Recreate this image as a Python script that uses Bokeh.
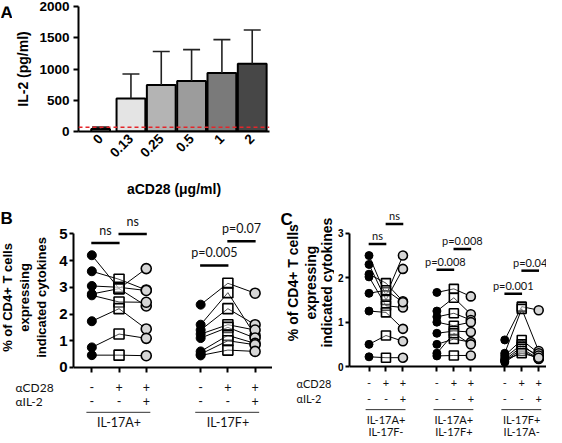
from math import pi
from bokeh.plotting import figure
from bokeh.layouts import column, row
from bokeh.models import Span, FixedTicker, LinearAxis, Range1d
from bokeh.core.properties import value
from bokeh.embed import file_html
from bokeh.resources import INLINE

# ---------------- data ----------------
# Panel A: IL-2 secretion vs aCD28 dose
a_doses = ["0", "0.13", "0.25", "0.5", "1", "2"]
a_mean = [40, 530, 745, 810, 935, 1085]
a_upper = [70, 920, 1280, 1310, 1470, 1625]   # mean + SD
a_detection_limit = 70

# Conditions (shared by B and C)
cd28_signs = ["-", "+", "+"]
il2_signs = ["-", "-", "+"]
y_title = ["% of CD4+ T cells", "expressing", "indicated cytokines"]

# Panel B: % of CD4+ T cells (paired donors)
b_groups = ["IL-17A+", "IL-17F+"]
b_ctrl = [[4.2, 3.6, 3.05, 2.75, 2.7, 1.73, 0.75, 0.46],
          [2.35, 1.6, 1.4, 1.25, 1.1, 0.6, 0.5, 0.45]]
b_cd28 = [[2.95, 3.3, 3.0, 2.95, 2.45, 2.2, 1.25, 0.46],
          [3.15, 2.8, 2.2, 1.6, 1.5, 1.2, 1.0, 0.65]]
b_cd28_il2 = [[2.3, 2.9, 2.88, 3.7, 2.44, 1.44, 1.09, 0.44],
              [2.78, 1.2, 1.6, 1.4, 1.1, 0.9, 0.85, 0.6]]
# (group, condition i, condition j, bar height, text)
b_sig = [(0, 0, 1, 4.66, "ns"), (0, 1, 2, 5.0, "ns"),
         (1, 0, 1, 3.82, "p=0.005"), (1, 1, 2, 4.72, "p=0.07")]

# Panel C
c_groups = [("IL-17A+", "IL-17F-"), ("IL-17A+", "IL-17F+"), ("IL-17F+", "IL-17A-")]
c_ctrl = [[2.5, 2.3, 2.08, 2.02, 1.65, 1.25, 0.5, 0.22],
          [1.67, 1.25, 1.12, 1.0, 0.75, 0.5, 0.3, 0.24],
          [0.6, 0.3, 0.25, 0.2, 0.15, 0.12, 0.1, 0.15]]
c_cd28 = [[1.6, 1.5, 1.88, 1.37, 1.72, 1.22, 0.7, 0.2],
          [1.75, 1.55, 1.2, 0.92, 0.8, 0.62, 0.75, 0.25],
          [1.35, 1.3, 0.6, 0.5, 0.45, 0.4, 0.35, 0.3]]
c_cd28_il2 = [[2.5, 2.2, 1.47, 1.33, 1.45, 0.85, 0.57, 0.2],
              [1.58, 1.18, 1.05, 1.0, 0.78, 0.55, 0.5, 0.25],
              [1.27, 0.35, 0.3, 0.2, 0.25, 0.18, 0.17, 0.2]]
c_sig = [(0, 0, 1, 2.76, "ns"), (0, 1, 2, 3.21, "ns"),
         (1, 0, 1, 2.18, "p=0.008"), (1, 1, 2, 2.65, "p=0.008"),
         (2, 0, 1, 1.64, "p=0.001"), (2, 1, 2, 2.16, "p=0.04")]

# ---------------- styles ----------------
BOLD = "Liberation Sans"
LIGHT = "Lato"
TXT = "#111111"
bar_colors = ["#d4d4d4", "#e4e4e4", "#b4b4b4", "#9c9c9c", "#7a7a7a", "#474747"]
bar_widths = [0.62, 0.95, 0.95, 0.95, 0.95, 0.95]


def clean(p):
    p.grid.visible = False
    p.outline_line_color = None
    p.background_fill_color = "white"
    p.border_fill_color = "white"


def style_axis(ax, font_size, tick_len=5):
    ax.axis_line_width = 2
    ax.axis_line_color = "black"
    ax.major_tick_line_width = 2
    ax.major_tick_out = tick_len
    ax.major_tick_in = 0
    ax.minor_tick_line_color = None
    ax.major_label_text_font = BOLD
    ax.major_label_text_font_style = "bold"
    ax.major_label_text_font_size = font_size
    ax.major_label_text_color = "black"


def side_fig(width, height, x_range, y_range, top=0, bottom=0):
    """An axis-free strip holding the texts that sit left of a panel's y axis."""
    s = figure(width=width, height=height, x_range=x_range, y_range=y_range,
               output_backend="svg", toolbar_location=None, x_axis_location=None,
               y_axis_location=None, min_border_left=0, min_border_right=0,
               min_border_top=top, min_border_bottom=bottom)
    clean(s)
    return s


def letter(s, x, y, txt):
    s.text(x=[x], y=[y], text=[txt], text_font=value(BOLD), text_font_style="bold",
           text_font_size="17px", text_baseline="middle", text_align="left",
           text_color="black")


# ---------------- Panel A ----------------
a_x = list(range(len(a_doses)))
pA = figure(width=262, height=200, x_range=(-0.73, 5.57), y_range=(0, 2000),
            output_backend="svg", toolbar_location=None,
            min_border_left=58, min_border_right=5, min_border_top=6, min_border_bottom=63)
clean(pA)
pA.vbar(x=a_x, top=a_mean, width=bar_widths, bottom=0, fill_color=bar_colors,
        line_color="black", line_width=2)
pA.segment(x0=a_x, y0=a_mean, x1=a_x, y1=a_upper, line_color="#222222", line_width=1.6)
pA.segment(x0=[x - 0.28 for x in a_x], y0=a_upper, x1=[x + 0.28 for x in a_x], y1=a_upper,
           line_color="#222222", line_width=1.6)
pA.add_layout(Span(location=a_detection_limit, dimension="width", line_color="#e3262b",
                   line_dash="4 3", line_width=1.5))
style_axis(pA.yaxis[0], "13.5px")
pA.yaxis.major_label_standoff = 4
pA.yaxis.ticker = FixedTicker(ticks=[0, 500, 1000, 1500, 2000])
pA.yaxis.axis_label = "IL-2 (pg/ml)"
style_axis(pA.xaxis[0], "13.5px", tick_len=0)
pA.xaxis.major_tick_line_color = None
pA.xaxis.ticker = FixedTicker(ticks=a_x)
pA.xaxis.major_label_overrides = {x: d for x, d in zip(a_x, a_doses)}
pA.xaxis.major_label_orientation = pi / 4
pA.xaxis.axis_label = "aCD28 (\u03bcg/ml)"
for ax in (pA.xaxis[0], pA.yaxis[0]):
    ax.axis_label_text_font = BOLD
    ax.axis_label_text_font_style = "bold"
    ax.axis_label_text_font_size = "14px"
    ax.axis_label_text_color = "black"
pA.yaxis.axis_label_standoff = 5
pA.xaxis.axis_label_standoff = 17

pAL = side_fig(12, 200, Range1d(0, 12), Range1d(200, 0))
letter(pAL, 0, 10, "A")


# ---------------- paired panels ----------------
def paired_panel(width, left, xr, yr, ymax, tick_font, groups, ctrl, cd28, il2, sig,
                 sig_off, rows, m_black, m_sq, m_grey, ann_font, two_line, tick_standoff):
    p = figure(width=width, height=238, x_range=xr, y_range=yr, output_backend="svg",
               toolbar_location=None, x_axis_location=None,
               min_border_left=left, min_border_right=0, min_border_top=8,
               min_border_bottom=0)
    clean(p)
    n_groups = len(groups)
    bases = [1 + 4 * g for g in range(n_groups)]
    positions = [b + i for b in bases for i in range(3)]

    # y axis
    style_axis(p.yaxis[0], tick_font, tick_len=4)
    p.yaxis.bounds = (0, ymax)
    p.yaxis.ticker = FixedTicker(ticks=list(range(0, ymax + 1)))
    p.yaxis.major_label_standoff = tick_standoff

    # x axis sitting at y=0
    xa = LinearAxis(fixed_location=0, ticker=FixedTicker(ticks=positions),
                    major_label_overrides={x: "" for x in positions})
    style_axis(xa, "1px")
    xa.major_tick_out = 0
    xa.major_tick_in = 5
    xa.major_label_standoff = 0
    p.add_layout(xa, "above")

    for g, b in enumerate(bases):
        n = len(ctrl[g])
        xs = [[b, b + 1, b + 2] for _ in range(n)]
        ys = [[c, d, e] for c, d, e in zip(ctrl[g], cd28[g], il2[g])]
        p.multi_line(xs, ys, line_color="black", line_width=1)
        p.scatter([b + 1] * n, cd28[g], marker="square", size=m_sq, fill_color="white",
                  fill_alpha=0.3, line_color="black", line_width=1.6)
        p.scatter([b] * n, ctrl[g], marker="circle", size=m_black, fill_color="black",
                  line_color="black")
        p.scatter([b + 2] * n, il2[g], marker="circle", size=m_grey, fill_color="#d6d6d6",
                  line_color="black", line_width=1.6)

    # significance bars
    for g, i, j, yv, txt in sig:
        x0 = bases[g] + i
        x1 = bases[g] + j
        p.segment(x0=[x0 - 0.02], y0=[yv], x1=[x1 + 0.02], y1=[yv], line_color="black",
                  line_width=2.5)
        p.text(x=[(x0 + x1) / 2], y=[yv + sig_off], text=[txt], text_align="center",
               text_baseline="middle", text_font=value(LIGHT), text_font_size=ann_font,
               text_color=TXT)

    # condition rows
    cd28_y, il2_y, line_y, lab_y = rows[:4]
    sx, sy, st = [], [], []
    for b in bases:
        for i in range(3):
            sx += [b + i, b + i]
            sy += [cd28_y, il2_y]
            st += [cd28_signs[i], il2_signs[i]]
    p.text(x=sx, y=sy, text=st, text_align="center", text_baseline="middle",
           text_font=value(LIGHT), text_font_size=ann_font, text_color=TXT)
    p.segment(x0=[b - 0.2 for b in bases], y0=[line_y] * n_groups,
              x1=[b + 2.15 for b in bases], y1=[line_y] * n_groups,
              line_color="#333333", line_width=1)
    if two_line:
        p.text(x=[b + 1 for b in bases], y=[lab_y] * n_groups, text=[gg[0] for gg in groups],
               text_align="center", text_baseline="middle", text_font=value(LIGHT),
               text_font_size=ann_font, text_color=TXT)
        p.text(x=[b + 1 for b in bases], y=[rows[4]] * n_groups, text=[gg[1] for gg in groups],
               text_align="center", text_baseline="middle", text_font=value(LIGHT),
               text_font_size=ann_font, text_color=TXT)
    else:
        p.text(x=[b + 1 for b in bases], y=[lab_y] * n_groups, text=groups,
               text_align="center", text_baseline="middle", text_font=value(LIGHT),
               text_font_size=ann_font, text_color=TXT)
    return p


def left_strip(width, yr, rows, title_x, title_y, title_font, row_x, ann_font,
               letter_xy, letter_txt):
    s = side_fig(width, 238, Range1d(0, width), yr, top=8, bottom=0)
    for tx, txt in zip(title_x, y_title):
        s.text(x=[tx], y=[title_y], text=[txt], angle=pi / 2, text_font=value(BOLD),
               text_font_style="bold", text_font_size=title_font, text_align="center",
               text_baseline="middle", text_color="black")
    s.text(x=[row_x, row_x], y=[rows[0], rows[1]], text=["\u03b1CD28", "\u03b1IL-2"],
           text_font=value(LIGHT), text_font_size=ann_font, text_color=TXT,
           text_align="left", text_baseline="middle")
    letter(s, letter_xy[0], letter_xy[1], letter_txt)
    return s


b_rows = [-0.75, -1.27, -1.68, -2.06]
pB = paired_panel(216, 14, (0.326, 7.64), (-2.66, 5.95), 5, "15px", b_groups,
                  b_ctrl, b_cd28, b_cd28_il2, b_sig, 0.47, b_rows, 9, 10, 10, "12.5px",
                  False, 2)
pBL = left_strip(56, pB.y_range, b_rows, [7, 24, 41], 2.62, "13px", 15, "12px",
                 (0, 5.57), "B")

c_rows = [-0.38, -0.72, -0.97, -1.2, -1.46]
pC = paired_panel(212, 10, (-0.15, 11.46), (-1.62, 3.56), 3, "10px", c_groups,
                  c_ctrl, c_cd28, c_cd28_il2, c_sig, 0.19, c_rows, 8, 9, 9, "11px",
                  True, 2)
pCL = left_strip(62, pC.y_range, c_rows, [20, 38, 54], 1.89, "14px", 24, "11px",
                 (8, 3.32), "C")

layout = column(row(pAL, pA), row(pBL, pB, pCL, pC))
open("out.html", "w").write(file_html(layout, INLINE))
